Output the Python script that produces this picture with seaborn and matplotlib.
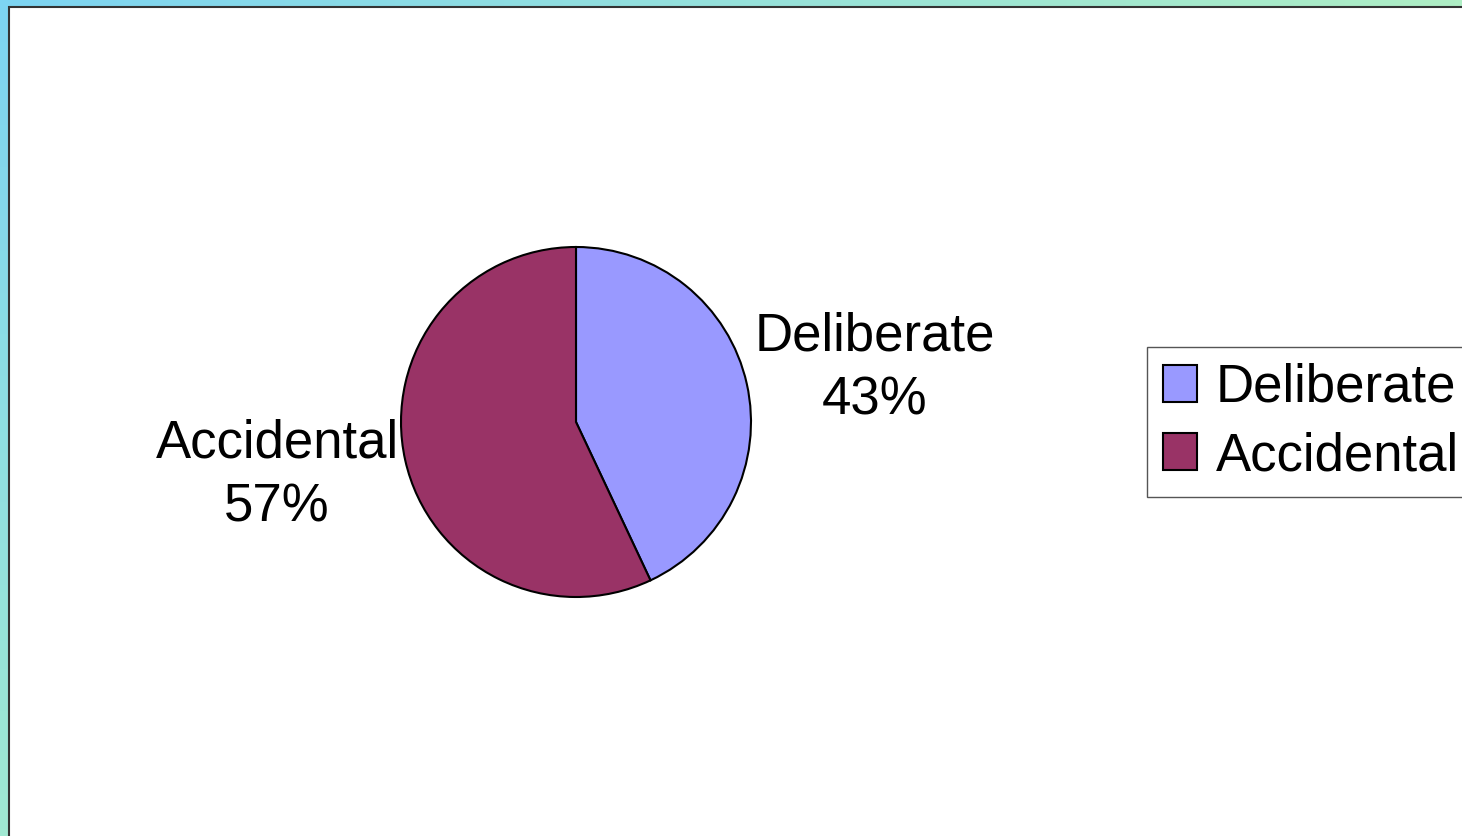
import numpy as np
import matplotlib
matplotlib.use("Agg")
import matplotlib.pyplot as plt
import seaborn as sns

sns.set_theme(style="white")
plt.rcParams['font.family'] = ['Liberation Sans', 'DejaVu Sans']

categories = ['Deliberate', 'Accidental']
shares = [43, 57]
colors = ['#9999FF', '#993366']

fig_w, fig_h = 1462, 836
dpi = 100
fontsize = 38

fig = plt.figure(figsize=(fig_w / dpi, fig_h / dpi), dpi=dpi)

# gradient frame behind the white panel
bg = fig.add_axes([0, 0, 1, 1])
bg.set_axis_off()
tl = np.array([125, 212, 242]) / 255.0
tr = np.array([174, 238, 196]) / 255.0
bl = np.array([160, 232, 210]) / 255.0
br = np.array([185, 242, 185]) / 255.0
u = np.linspace(0, 1, 200)[None, :, None]
v = np.linspace(0, 1, 120)[:, None, None]
grad = (1 - u) * (1 - v) * tl + u * (1 - v) * tr + (1 - u) * v * bl + u * v * br
bg.imshow(grad, extent=[0, 1, 0, 1], aspect='auto', origin='upper')
bg.add_patch(plt.Rectangle((9 / fig_w, -0.01), 1.02, 1 + 0.01 - 7 / fig_h,
                           facecolor='white', edgecolor='#333333', linewidth=1.5))
bg.set_xlim(0, 1)
bg.set_ylim(0, 1)

# pie
cx, cy, r = 576, 422, 175
ax = fig.add_axes([(cx - r) / fig_w, (fig_h - cy - r) / fig_h, 2 * r / fig_w, 2 * r / fig_h])
labels = [f"{c}\n{s}%" for c, s in zip(categories, shares)]
wedges, texts = ax.pie(shares, colors=colors, startangle=90, counterclock=False,
                       labels=labels, labeldistance=1.75,
                       wedgeprops=dict(edgecolor='black', linewidth=1.5),
                       textprops=dict(fontsize=fontsize, color='black'))
for t in texts:
    x, y = t.get_position()
    t.set_position((x, y * 0.8))
    t.set_ha('center')
    t.set_va('center')
    t.set_linespacing(1.38)
ax.set_xlim(-1, 1)
ax.set_ylim(-1, 1)
ax.set_aspect('equal')

leg = fig.legend(wedges, categories, loc='upper left',
                 bbox_to_anchor=(1147 / fig_w, 1 - 347 / fig_h),
                 fontsize=fontsize, frameon=True, fancybox=False,
                 edgecolor='#555555', framealpha=1, labelcolor='black',
                 handlelength=0.65, handleheight=0.7, handletextpad=0.35,
                 labelspacing=0.35, borderpad=0.3, borderaxespad=0)
leg.get_frame().set_linewidth(1.0)
for h in leg.legend_handles:
    h.set_edgecolor('black')
    h.set_linewidth(1.5)

fig.savefig("out.png", dpi=dpi)
